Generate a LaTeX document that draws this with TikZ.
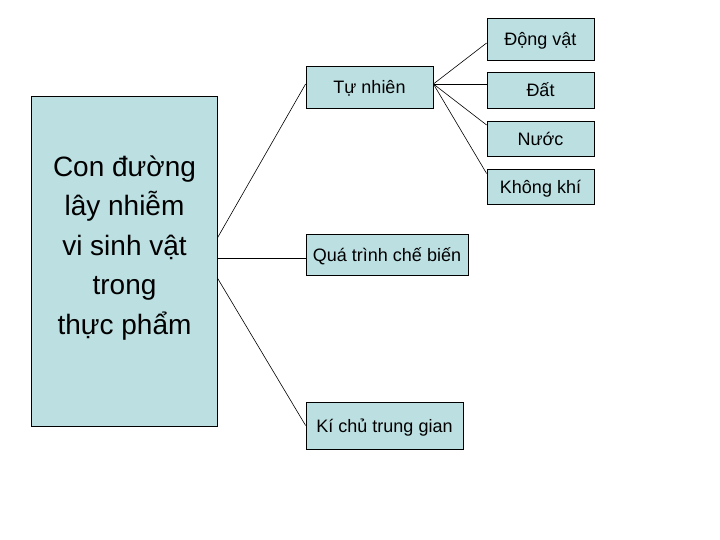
\documentclass[tikz,border=0pt]{standalone}
\usepackage{fontspec}
\setmainfont{Liberation Sans}
\definecolor{boxblue}{RGB}{188,223,226}
\tikzset{
  box/.style={draw, line width=0.8pt, fill=boxblue, inner sep=0pt,
    text height=16pt, text depth=2.2pt, font=\fontsize{18}{21}\selectfont},
  link/.style={draw, line width=0.6pt},
}
\begin{document}
\begin{tikzpicture}[x=1pt,y=1pt]
\useasboundingbox (0,0) rectangle (720,540);

% main box
\node[box, minimum width=186pt, minimum height=330pt] (route) at (124,279) {};
\node[align=center, font=\fontsize{28}{39.5}\selectfont] (routetext) at (124.5,292)
  {Con đường\\ lây nhiễm\\vi sinh vật\\trong\\thực phẩm};

% middle column
\node[box, minimum width=127pt, minimum height=42pt] (tunhien) at (369.5,453) {Tự nhiên};
\node[box, minimum width=162pt, minimum height=41pt] (chebien) at (387,285.5) {Quá trình chế biến};
\node[box, minimum width=157pt, minimum height=47pt] (kichu) at (384.5,114.5) {Kí chủ trung gian};

% right column
\node[box, minimum width=107pt, minimum height=42pt] (dongvat) at (540.5,501) {Động vật};
\node[box, minimum width=107pt, minimum height=36pt] (dat) at (540.5,450) {Đất};
\node[box, minimum width=107pt, minimum height=35pt] (nuoc) at (540.5,401.5) {Nước};
\node[box, minimum width=107pt, minimum height=35pt] (khongkhi) at (540.5,353.5) {Không khí};

% lines from main box
\draw[link] ([yshift=23pt]route.east) -- ([yshift=3pt]tunhien.west);
\draw[link] ([yshift=3pt]route.east) -- ([yshift=-3.5pt]chebien.west);
\draw[link] ([yshift=-17pt]route.east) -- (kichu.west);

% lines from Tu nhien
\coordinate (tn) at ([yshift=3pt]tunhien.east);
\draw[link] (tn) -- ([yshift=-4pt]dongvat.west);
\draw[link] (tn) -- (tn -| dat.west);
\draw[link] (tn) -- ([yshift=13.5pt]nuoc.west);
\draw[link] (tn) -- ([yshift=13pt]khongkhi.west);

\end{tikzpicture}
\end{document}
